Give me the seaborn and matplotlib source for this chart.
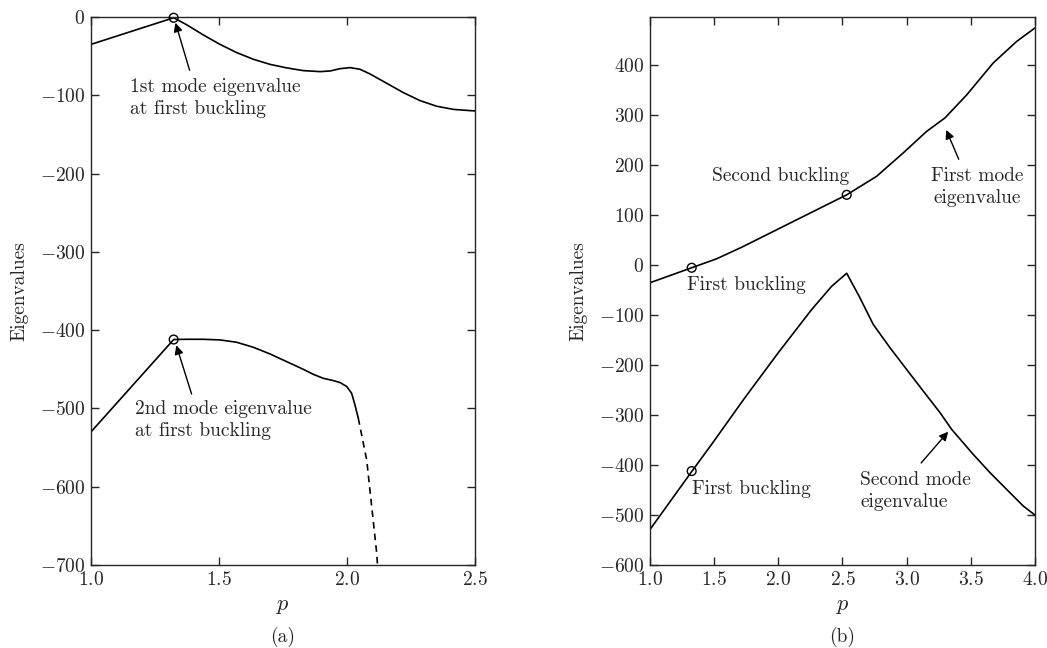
import matplotlib
import matplotlib.pyplot as plt
import numpy as np
import pandas as pd
import seaborn as sns

matplotlib.use("Agg")

# (a) first and second mode eigenvalues
p_a1 = [1.0, 1.323, 1.374, 1.439, 1.504, 1.569, 1.634, 1.699, 1.764, 1.829, 1.895,
        1.934, 1.973, 2.012, 2.051, 2.09, 2.155, 2.22, 2.285, 2.35, 2.415, 2.48, 2.5]
ev_a1 = [-35, -1, -10, -23, -35, -45.5, -54, -60.5, -65, -68.5, -69.8,
         -69, -66, -64.7, -66.8, -72.8, -84.7, -96.6, -106.8, -114, -118, -119.6, -120]
p_a2 = [1.0, 1.323, 1.374, 1.439, 1.504, 1.569, 1.634, 1.699, 1.764, 1.829, 1.868,
        1.907, 1.947, 1.973, 1.999, 2.018, 2.031, 2.044]
ev_a2 = [-530, -412, -411.7, -411.7, -412.5, -415.5, -421.9, -430.4, -440.2, -450, -456.4,
         -461.5, -464.5, -467, -472, -480.6, -495.5, -512.5]
p_a2_dash = [2.044, 2.077, 2.116, 2.119]
ev_a2_dash = [-512.5, -566, -685, -700]
buck_a_p = [1.323, 1.323]
buck_a_ev = [-1, -412]

# (b) first and second mode eigenvalues
p_b1 = [1.0, 1.156, 1.325, 1.52, 1.714, 1.909, 2.104, 2.299, 2.533, 2.766, 2.974,
        3.156, 3.299, 3.468, 3.675, 3.857, 4.0]
ev_b1 = [-35, -20.6, -5, 13, 36, 61, 86, 111, 141, 178, 225,
         268, 295, 341, 405, 448, 475]
p_b2 = [1.0, 1.325, 1.48, 1.74, 2.0, 2.26, 2.416, 2.533, 2.636, 2.74, 2.87, 3.0,
        3.13, 3.26, 3.351, 3.519, 3.649, 3.779, 3.909, 4.0]
ev_b2 = [-529, -413, -358.6, -265, -175, -88.6, -42, -16, -65, -118.6, -165, -208.6,
         -252, -295, -328.6, -378.6, -415, -448.6, -482, -500]
buck_b_p = [1.325, 2.533, 1.325]
buck_b_ev = [-5, 141, -412]

sns.set_style("ticks")
plt.rcParams["font.family"] = ["cmr10", "DejaVu Serif"]
plt.rcParams["mathtext.fontset"] = "cm"
plt.rcParams["axes.formatter.use_mathtext"] = True
plt.rcParams["axes.unicode_minus"] = True

FS = 14
fig = plt.figure(figsize=(10.47, 6.48), dpi=100)
ax1 = fig.add_axes([0.0869, 0.1281, 0.3668, 0.8457])
ax2 = fig.add_axes([0.6208, 0.1281, 0.3677, 0.8457])


def line(ax, x, y, ls="-"):
    d = pd.DataFrame({"p": x, "ev": y})
    sns.lineplot(data=d, x="p", y="ev", ax=ax, color="black", lw=1.2,
                 linestyle=ls, sort=False, estimator=None)


def circles(ax, x, y):
    ax.scatter(x, y, s=40, facecolors="none", edgecolors="black",
               linewidths=1.0, zorder=5, clip_on=False)


def note(ax, text, xy, xytext, tail, ha="center", ma="center"):
    ax.annotate(text, xy=xy, xytext=xytext, fontsize=FS, ha=ha, va="center",
                multialignment=ma, linespacing=1.3,
                arrowprops=dict(arrowstyle="-|>", color="black", lw=1.0,
                                mutation_scale=13, shrinkA=0, shrinkB=2, relpos=tail))


line(ax1, p_a1, ev_a1)
line(ax1, p_a2, ev_a2)
line(ax1, p_a2_dash, ev_a2_dash, ls=(0, (4, 3)))
circles(ax1, buck_a_p, buck_a_ev)

note(ax1, "1st mode eigenvalue\nat first buckling", (1.327, -4), (1.152, -104),
     (0.35, 1.2), ha="left", ma="left")
note(ax1, "2nd mode eigenvalue\nat first buckling", (1.33, -416), (1.172, -515),
     (0.32, 1.15), ha="left", ma="left")

ax1.set_xlim(1.0, 2.5)
ax1.set_ylim(-700, 0)
ax1.set_xticks([1.0, 1.5, 2.0, 2.5])
ax1.set_yticks(np.arange(-700, 1, 100))

line(ax2, p_b1, ev_b1)
line(ax2, p_b2, ev_b2)
circles(ax2, buck_b_p, buck_b_ev)

ax2.text(2.02, 179, "Second buckling", fontsize=FS, ha="center", va="center")
ax2.text(1.29, -40, "First buckling", fontsize=FS, ha="left", va="center")
ax2.text(1.33, -447, "First buckling", fontsize=FS, ha="left", va="center")
note(ax2, "First mode\neigenvalue", (3.30, 276), (3.55, 156), (0.3, 1.2))
note(ax2, "Second mode\neigenvalue", (3.338, -329), (3.07, -452), (0.55, 1.2),
     ma="left")

ax2.set_xlim(1.0, 4.0)
ax2.set_ylim(-600, 497)
ax2.set_xticks(np.arange(1.0, 4.01, 0.5))
ax2.set_yticks(np.arange(-600, 401, 100))

for ax, tag in [(ax1, "(a)"), (ax2, "(b)")]:
    ax.tick_params(direction="in", length=6, width=1, top=True, right=True,
                   labelsize=FS, pad=4)
    for s in ax.spines.values():
        s.set_linewidth(1.0)
    ax.set_xlabel("$p$", fontsize=FS + 2, labelpad=6)
    ax.set_ylabel("Eigenvalues", fontsize=FS, labelpad=8)
    pos = ax.get_position()
    fig.text((pos.x0 + pos.x1) / 2, 0.017, tag, fontsize=FS, ha="center", va="center")

fig.savefig("out.png", dpi=100)
